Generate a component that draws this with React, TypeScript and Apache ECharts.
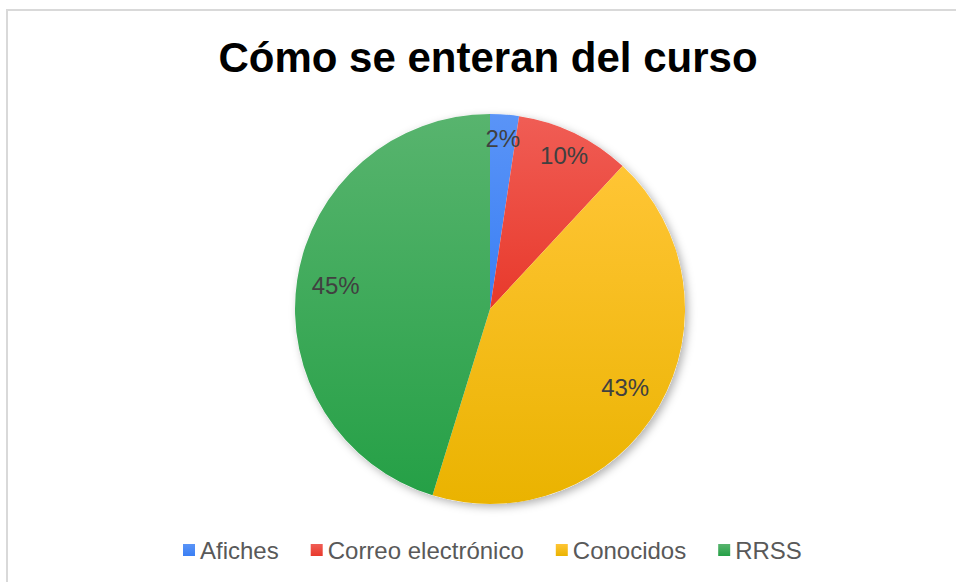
import React, { useEffect, useRef } from 'react';
import * as echarts from 'echarts';

const chartTitle = 'Cómo se enteran del curso';
const categories = ['Afiches', 'Correo electrónico', 'Conocidos', 'RRSS'];
const counts = [1, 4, 18, 19];
const topColors = ['#5A94F7', '#F05D55', '#FFC535', '#58B46E'];
const bottomColors = ['#3A7FF4', '#E8392B', '#EAB300', '#25A046'];
const smallSlices = [true, true, false, false];

export default function App() {
  const ref = useRef<HTMLDivElement>(null);
  useEffect(() => {
    const chart = echarts.init(ref.current!, null, { renderer: 'svg' });
    const total = counts.reduce((a, b) => a + b, 0);
    const font = "'Liberation Sans', Arial, sans-serif";
    const R = 195;
    const center = [490, 309];
    const labelFmt = (p: any) => Math.round((p.value / total) * 100) + '%';

    const mainData = categories.map((name, i) => ({
      name,
      value: counts[i],
      itemStyle: {
        color: new echarts.graphic.LinearGradient(0, 0, 0, 1, [
          { offset: 0, color: topColors[i] },
          { offset: 1, color: bottomColors[i] },
        ]),
      },
    }));

    const overlay = (r0: number, small: boolean) => ({
      type: 'pie',
      center,
      radius: [r0, R],
      startAngle: 90,
      silent: true,
      z: 3,
      legendHoverLink: false,
      emphasis: { disabled: true },
      labelLine: { show: false },
      label: {
        show: true,
        position: 'inside',
        formatter: labelFmt,
        fontSize: 24,
        color: '#404040',
        fontFamily: font,
      },
      data: categories.map((name, i) => ({
        name,
        value: counts[i],
        itemStyle: { color: 'rgba(0,0,0,0)' },
        label: { show: smallSlices[i] === small },
      })),
    });

    chart.setOption({
      animation: false,
      backgroundColor: '#ffffff',
      title: {
        text: chartTitle,
        left: 483,
        textAlign: 'center',
        top: 31,
        textStyle: { fontSize: 42, fontWeight: 'bold', color: '#000000', fontFamily: font },
      },
      legend: {
        data: categories,
        left: 178,
        top: 533,
        icon: 'rect',
        itemWidth: 12,
        itemHeight: 12,
        itemGap: 32,
        textStyle: { fontSize: 24, color: '#595959', fontFamily: font },
      },
      graphic: [
        {
          type: 'rect',
          silent: true,
          z: -1,
          shape: { x: 7, y: 10, width: 1200, height: 1200 },
          style: { fill: 'none', stroke: '#d9d9d9', lineWidth: 2 },
        },
      ],
      series: [
        {
          type: 'pie',
          center,
          radius: [0, R],
          startAngle: 90,
          z: 2,
          silent: true,
          emphasis: { disabled: true },
          label: { show: false },
          labelLine: { show: false },
          itemStyle: { borderWidth: 0 },
          data: mainData,
        },
        {
          type: 'pie',
          center,
          radius: [0, R],
          z: 1,
          silent: true,
          emphasis: { disabled: true },
          label: { show: false },
          labelLine: { show: false },
          itemStyle: {
            color: '#ffffff',
            shadowBlur: 8,
            shadowOffsetX: 3,
            shadowOffsetY: 3,
            shadowColor: 'rgba(0,0,0,0.3)',
          },
          data: [{ value: total, name: '' }],
        },
        overlay(R * 0.72, true),
        overlay(R * 0.57, false),
      ],
    });
    return () => chart.dispose();
  }, []);
  return (
    <div
      ref={ref}
      style={{ position: 'fixed', left: 0, top: 0, width: 956, height: 582, background: '#fff' }}
    />
  );
}
